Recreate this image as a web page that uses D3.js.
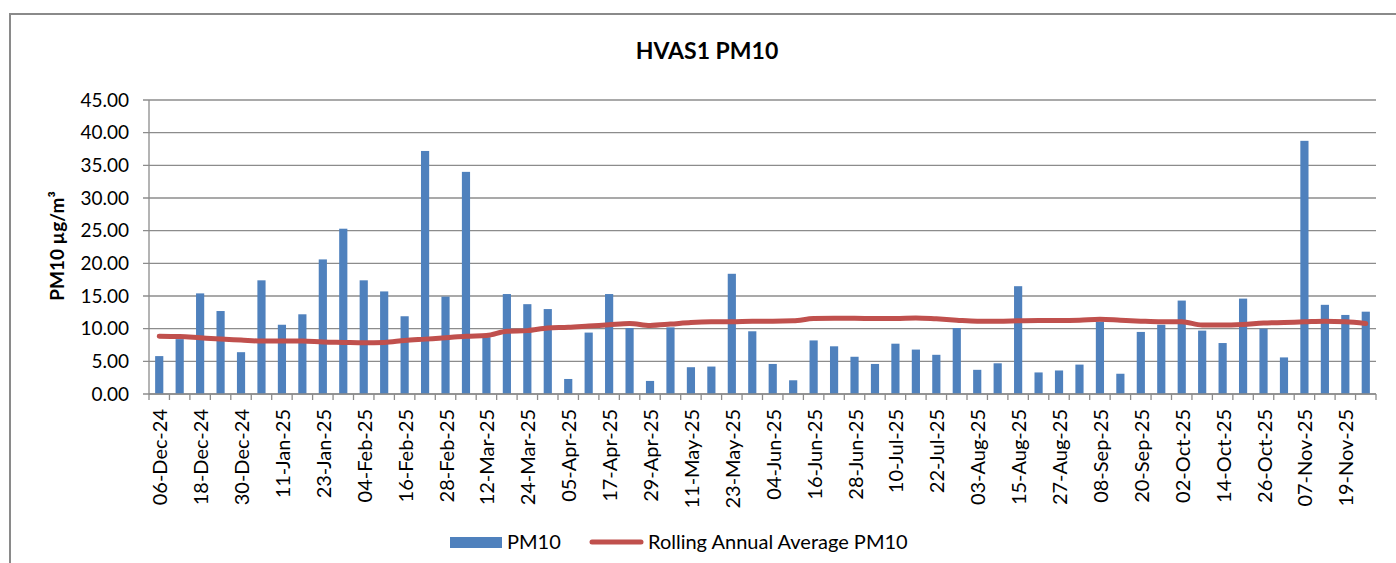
<!DOCTYPE html>
<html>
<head>
<meta charset="utf-8">
<script src="https://cdn.jsdelivr.net/npm/d3@7"></script>
<style>
  html, body { margin: 0; padding: 0; background: #fff; }
  svg { display: block; font-family: Lato, "Open Sans", sans-serif; }
</style>
</head>
<body>
<svg id="chart" width="1396" height="563"></svg>
<script>
const title = "HVAS1 PM10";
const yTitle = "PM10 µg/m³";
const seriesNames = ["PM10", "Rolling Annual Average PM10"];

const dates = [
  "06-Dec-24","12-Dec-24","18-Dec-24","24-Dec-24","30-Dec-24",
  "05-Jan-25","11-Jan-25","17-Jan-25","23-Jan-25","29-Jan-25",
  "04-Feb-25","10-Feb-25","16-Feb-25","22-Feb-25","28-Feb-25",
  "06-Mar-25","12-Mar-25","18-Mar-25","24-Mar-25","30-Mar-25",
  "05-Apr-25","11-Apr-25","17-Apr-25","23-Apr-25","29-Apr-25",
  "05-May-25","11-May-25","17-May-25","23-May-25","29-May-25",
  "04-Jun-25","10-Jun-25","16-Jun-25","22-Jun-25","28-Jun-25",
  "04-Jul-25","10-Jul-25","16-Jul-25","22-Jul-25","28-Jul-25",
  "03-Aug-25","09-Aug-25","15-Aug-25","21-Aug-25","27-Aug-25",
  "02-Sep-25","08-Sep-25","14-Sep-25","20-Sep-25","26-Sep-25",
  "02-Oct-25","08-Oct-25","14-Oct-25","20-Oct-25","26-Oct-25",
  "01-Nov-25","07-Nov-25","13-Nov-25","19-Nov-25","25-Nov-25"
];

const pm10 = [
  5.8, 8.4, 15.4, 12.7, 6.4, 17.4, 10.6, 12.2, 20.6, 25.3,
  17.4, 15.7, 11.9, 37.2, 14.9, 34.0, 8.7, 15.3, 13.75, 13.0,
  2.3, 9.4, 15.3, 10.1, 2.0, 10.2, 4.1, 4.2, 18.4, 9.6,
  4.6, 2.1, 8.2, 7.3, 5.7, 4.6, 7.7, 6.8, 6.0, 10.1,
  3.7, 4.7, 16.5, 3.3, 3.6, 4.5, 11.1, 3.1, 9.5, 10.6,
  14.3, 9.7, 7.8, 14.6, 10.0, 5.6, 38.75, 13.65, 12.1, 12.6
];

const rolling = [
  8.85, 8.8, 8.6, 8.4, 8.25, 8.1, 8.1, 8.1, 7.95, 7.9,
  7.85, 7.9, 8.2, 8.4, 8.6, 8.85, 8.95, 9.6, 9.7, 10.1,
  10.2, 10.4, 10.6, 10.8, 10.5, 10.7, 10.95, 11.05, 11.05, 11.15,
  11.15, 11.2, 11.55, 11.6, 11.6, 11.55, 11.55, 11.65, 11.5, 11.3,
  11.15, 11.15, 11.2, 11.25, 11.25, 11.3, 11.45, 11.3, 11.15, 11.05,
  11.05, 10.55, 10.55, 10.65, 10.85, 10.95, 11.05, 11.15, 11.05, 10.8
];

const yTicks = [0, 5, 10, 15, 20, 25, 30, 35, 40, 45];

(function () {
const svg = d3.select("#chart");
const barColor = "#4F81BD";
const lineColor = "#C0504D";
const gridColor = "#8c8c8c";

// chart border
svg.append("rect")
  .attr("x", 10).attr("y", 14).attr("width", 1400).attr("height", 600)
  .attr("fill", "none").attr("stroke", "#8a8a8a").attr("stroke-width", 2);

const pLeft = 149, pRight = 1376, pTop = 100, pBottom = 394;

const x = d3.scaleBand().domain(d3.range(dates.length)).range([pLeft, pRight])
  .paddingInner(0.6).paddingOuter(0.3);
const y = d3.scaleLinear().domain([0, 45]).range([pBottom, pTop]);

// gridlines
svg.append("g").selectAll("line").data(yTicks).join("line")
  .attr("x1", pLeft - 6).attr("x2", pRight)
  .attr("y1", d => y(d)).attr("y2", d => y(d))
  .attr("stroke", gridColor).attr("stroke-width", 1.3);

// y axis line
svg.append("line").attr("x1", pLeft).attr("x2", pLeft).attr("y1", pTop).attr("y2", pBottom)
  .attr("stroke", gridColor).attr("stroke-width", 1.3);

// y tick labels
svg.append("g").selectAll("text").data(yTicks).join("text")
  .attr("x", 129).attr("y", d => y(d)).attr("dy", "0.35em")
  .attr("text-anchor", "end").attr("font-size", 19).attr("fill", "#000")
  .text(d => d.toFixed(2));

// bars
svg.append("g").selectAll("rect").data(pm10).join("rect")
  .attr("x", (d, i) => x(i)).attr("width", x.bandwidth())
  .attr("y", d => y(d)).attr("height", d => y(0) - y(d))
  .attr("fill", barColor);

// x axis line and ticks
const step = x.step();
svg.append("line").attr("x1", pLeft).attr("x2", pRight).attr("y1", pBottom).attr("y2", pBottom)
  .attr("stroke", gridColor).attr("stroke-width", 1.3);
svg.append("g").selectAll("line").data(d3.range(dates.length + 1)).join("line")
  .attr("x1", i => pLeft + i * step).attr("x2", i => pLeft + i * step)
  .attr("y1", pBottom).attr("y2", pBottom + 6)
  .attr("stroke", gridColor).attr("stroke-width", 1.3);

// x labels (every other)
svg.append("g").selectAll("text").data(dates.filter((d, i) => i % 2 === 0)).join("text")
  .attr("transform", (d, k) => `translate(${x(k * 2) + x.bandwidth() / 2 + 1},409) rotate(-90)`)
  .attr("dy", "0.35em").attr("text-anchor", "end").attr("font-size", 20).attr("fill", "#000")
  .text(d => d);

// rolling line
const line = d3.line()
  .x((d, i) => x(i) + x.bandwidth() / 2)
  .y(d => y(d))
  .curve(d3.curveMonotoneX);
svg.append("path").datum(rolling).attr("d", line)
  .attr("fill", "none").attr("stroke", lineColor).attr("stroke-width", 5)
  .attr("stroke-linecap", "round").attr("stroke-linejoin", "round");

// title
svg.append("text").attr("x", 707).attr("y", 59).attr("text-anchor", "middle")
  .attr("font-size", 23).attr("font-weight", "bold").attr("fill", "#000").text(title);

// y title
svg.append("text").attr("transform", "translate(57,246) rotate(-90)")
  .attr("dy", "0.35em").attr("text-anchor", "middle")
  .attr("font-size", 19).attr("font-weight", "bold").attr("fill", "#000").text(yTitle);

// legend
const lg = svg.append("g");
lg.append("rect").attr("x", 450).attr("y", 537).attr("width", 52).attr("height", 11).attr("fill", barColor);
lg.append("text").attr("x", 507).attr("y", 542).attr("dy", "0.35em").attr("font-size", 20).text(seriesNames[0]);
lg.append("line").attr("x1", 592).attr("x2", 641).attr("y1", 542).attr("y2", 542)
  .attr("stroke", lineColor).attr("stroke-width", 5).attr("stroke-linecap", "round");
lg.append("text").attr("x", 648).attr("y", 542).attr("dy", "0.35em").attr("font-size", 20).text(seriesNames[1]);
})();
</script>
</body>
</html>
